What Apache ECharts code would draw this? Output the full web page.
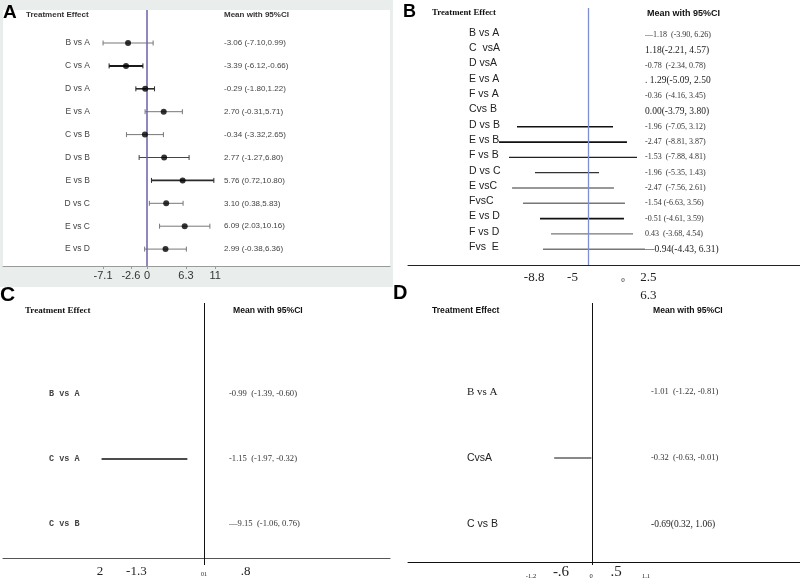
<!DOCTYPE html>
<html><head><meta charset="utf-8">
<script src="https://cdn.jsdelivr.net/npm/echarts@6/dist/echarts.min.js"></script>
<style>html,body{margin:0;padding:0;background:#fff}#c{width:800px;height:578px}</style>
</head><body><div id="c"></div>
<script>
// ---------------- DATA ----------------
// Panel A
const aCats = ['B vs A','C vs A','D vs A','E vs A','C vs B','D vs B','E vs B','D vs C','E vs C','E vs D'];
const aMean = [-3.06,-3.39,-0.29,2.70,-0.34,2.77,5.76,3.10,6.09,2.99];
const aLow  = [-7.10,-6.12,-1.80,-0.31,-3.32,-1.27,0.72,0.38,2.03,-0.38];
const aHigh = [0.99,-0.66,1.22,5.71,2.65,6.80,10.80,5.83,10.16,6.36];
const aTicks = [-7.1,-2.6,0,6.3,11];
// Panel B
const bCats = ['B vs A','C  vsA','D vsA','E vs A','F vs A','Cvs B','D vs B','E vs B','F vs B','D vs C','E vsC','FvsC','E vs D','F vs D','Fvs  E'];
const bText = ['—1.18  (-3.90, 6.26)','1.18(-2.21, 4.57)','-0.78  (-2.34, 0.78)','. 1.29(-5.09, 2.50','-0.36  (-4.16, 3.45)','0.00(-3.79, 3.80)',
  '-1.96  (-7.05, 3.12)','-2.47  (-8.81, 3.87)','-1.53  (-7.88, 4.81)','-1.96  (-5.35, 1.43)','-2.47  (-7.56, 2.61)','-1.54 (-6.63, 3.56)',
  '-0.51 (-4.61, 3.59)','0.43  (-3.68, 4.54)','—0.94(-4.43, 6.31)'];
const bLow  = [null,null,null,null,null,null,-7.03,-8.81,-7.82,-5.25,-7.52,-6.44,-4.75,-3.66,-4.46];
const bHigh = [null,null,null,null,null,null,2.48,3.86,4.85,1.09,2.57,3.66,3.56,4.46,5.64];
const bTicks = [-8.8,-5,0,2.5];
const bTickLabels = ['-8.8','-5','0','2.5\n6.3'];
// Panel C
const cCats = ['B vs A','C vs A','C vs B'];
const cText = ['-0.99  (-1.39, -0.60)','-1.15  (-1.97, -0.32)','—9.15  (-1.06, 0.76)'];
const cLow  = [null,-1.97,null];
const cHigh = [null,-0.32,null];
const cTicks = [-2,-1.3,0,0.8];
const cTickLabels = ['2','-1.3','01','.8'];
// Panel D
const dCats = ['B vs A','CvsA','C vs B'];
const dText = ['-1.01  (-1.22, -0.81)','-0.32  (-0.63, -0.01)','-0.69(0.32, 1.06)'];
const dLow  = [null,-0.63,null];
const dHigh = [null,-0.01,null];
const dTicks = [-1.2,-0.6,0,0.5,1.1];
const dTickLabels = ['-1.2','-.6','0','.5','1.1'];

// ---------------- LAYOUT HELPERS ----------------
function xRange(left, right, zero, ppu){ return {min:(left-zero)/ppu, max:(right-zero)/ppu}; }
function yRange(top, height, y0, d){ const mn = -(y0-top)/d; return {min:mn, max:mn + height/d}; }
const idx = n => Array.from({length:n}, (_, i) => i);
const SANS = "'Liberation Sans', Arial, sans-serif";
const SERIF = "'Liberation Serif', 'Times New Roman', serif";
const MONO = "'Liberation Mono', monospace";

const gA = {left:3, top:10, width:387, height:256};
const gB = {left:408, top:8, width:392, height:257};
const gC = {left:3, top:303, width:387, height:255};
const gD = {left:408, top:303, width:392, height:259};

function rowAxis(grid, rng, labels, margin, align, labelStyle){
  return {
    type:'value', gridIndex:grid, position:'left', offset:0, inverse:true, min:rng.min, max:rng.max,
    axisLine:{show:false}, axisTick:{show:false}, splitLine:{show:false},
    axisLabel:Object.assign({show:true, inside:true, align:align, margin:margin,
      customValues: idx(labels.length),
      formatter: v => labels[Math.round(v)] }, labelStyle)
  };
}
function hiddenX(grid, rng, extra){
  return Object.assign({type:'value', gridIndex:grid, position:'bottom', offset:0, min:rng.min, max:rng.max,
    splitLine:{show:false}, axisTick:{show:false}, axisLabel:{show:false}, axisLine:{show:false}}, extra||{});
}
function rowsOf(lo, hi){ return lo.map((l,i)=>[l,hi[i],i]).filter(r=>r[0]!=null); }

function segRender(styles, cap){
  return function(params, api){
    const i = api.value(2);
    const p1 = api.coord([api.value(0), i]);
    const p2 = api.coord([api.value(1), i]);
    const st = styles(i);
    const children = [{type:'line', shape:{x1:p1[0], y1:p1[1], x2:p2[0], y2:p2[1]}, style:{stroke:st.c, lineWidth:st.w}}];
    if (cap) {
      [p1,p2].forEach(p => children.push({type:'line', shape:{x1:p[0], y1:p[1]-cap, x2:p[0], y2:p[1]+cap}, style:{stroke:st.c, lineWidth:1}}));
    }
    return {type:'group', children};
  };
}

const aStyle = i => ({1:{c:'#1a1a1a',w:2},2:{c:'#2a2a2a',w:1.6},6:{c:'#2a2a2a',w:1.6},5:{c:'#444',w:1.2}}[i] || {c:'#777',w:1});
const bStyle = i => ({6:{c:'#111',w:1.6},7:{c:'#111',w:1.8},8:{c:'#222',w:1.4},9:{c:'#333',w:1.2},10:{c:'#333',w:1.2},
                      11:{c:'#777',w:1.6},12:{c:'#111',w:1.8},13:{c:'#777',w:1.4},14:{c:'#777',w:1.4}}[i] || {c:'#333',w:1});
const bBig = new Set([1,3,5,14]);

const aRowRng = yRange(gA.top, gA.height, 43, 22.9);
const bLabRng = yRange(gB.top, gB.height, 33, 15.3);
const bRowRng = yRange(gB.top, gB.height, 35, 15.3);
const cRowRng = yRange(gC.top, gC.height, 394, 65);
const dRowRng = yRange(gD.top, gD.height, 392, 66);

const aText = aMean.map((m,i)=>`${m.toFixed(2)} (${aLow[i].toFixed(2)},${aHigh[i].toFixed(2)})`);

function refLine(xi, yi, color, w){
  return {type:'scatter', xAxisIndex:xi, yAxisIndex:yi, data:[], silent:true,
    markLine:{silent:true, symbol:['none','none'], label:{show:false}, animation:false,
      lineStyle:{color:color, width:w, type:'solid'}, data:[{xAxis:0}]}};
}

const titles = [
  {text:'A', left:3, top:3, textStyle:{fontFamily:SANS, fontSize:19, fontWeight:'bold', color:'#000'}},
  {text:'B', left:403, top:3, textStyle:{fontFamily:SANS, fontSize:18, fontWeight:'bold', color:'#000'}},
  {text:'C', left:0, top:285, textStyle:{fontFamily:SANS, fontSize:21, fontWeight:'bold', color:'#000'}},
  {text:'D', left:393, top:283, textStyle:{fontFamily:SANS, fontSize:20, fontWeight:'bold', color:'#000'}},
  {text:'Treatment Effect', left:26, top:11, textStyle:{fontFamily:SANS, fontSize:8, fontWeight:'bold', color:'#333'}},
  {text:'Mean with 95%CI', left:224, top:11, textStyle:{fontFamily:SANS, fontSize:8, fontWeight:'bold', color:'#333'}},
  {text:'Treatment Effect', left:432, top:8.5, textStyle:{fontFamily:SERIF, fontSize:8.8, fontWeight:'bold', color:'#111'}},
  {text:'Mean with 95%CI', left:647, top:9, textStyle:{fontFamily:SANS, fontSize:9, fontWeight:'bold', color:'#111'}},
  {text:'Treatment Effect', left:25, top:306, textStyle:{fontFamily:SERIF, fontSize:9, fontWeight:'bold', color:'#111'}},
  {text:'Mean with 95%CI', left:233, top:306, textStyle:{fontFamily:SANS, fontSize:8.6, color:'#111'}},
  {text:'Treatment Effect', left:432, top:306, textStyle:{fontFamily:SANS, fontSize:8.6, color:'#111'}},
  {text:'Mean with 95%CI', left:653, top:306, textStyle:{fontFamily:SANS, fontSize:8.6, color:'#111'}}
].map(t => Object.assign({padding:0, itemGap:0}, t));

const option = {
  animation:false,
  backgroundColor:'#fff',
  title: titles,
  graphic: [{type:'rect', silent:true, z:-10, shape:{x:0, y:0, width:393, height:287}, style:{fill:'#e9eeec'}}],
  grid: [gA,gB,gC,gD].map((g,i)=>Object.assign({containLabel:false, outerBoundsMode:'none', show:i===0, backgroundColor:'#fff', borderWidth:0}, g)),
  xAxis: [
    // 0: A
    Object.assign(hiddenX(0, xRange(3,390,147,6.19)), {
      axisLine:{show:true, onZero:false, lineStyle:{color:'#9a9a9a', width:1}},
      axisTick:{show:true, customValues:aTicks, length:3, lineStyle:{color:'#9a9a9a'}},
      axisLabel:{show:true, customValues:aTicks, margin:4, fontFamily:SANS, fontSize:11, color:'#333', formatter:v=>String(v)}
    }),
    // 1: B main
    Object.assign(hiddenX(1, xRange(408,800,588,10.1)), {axisLine:{show:true, onZero:false, lineStyle:{color:'#222', width:1}}}),
    // 2: B tick labels
    Object.assign(hiddenX(1, xRange(408,800,623,10.1)), {
      axisLabel:{show:true, customValues:bTicks, margin:4, fontFamily:SERIF, fontSize:13, color:'#222', lineHeight:18,
        formatter:v=>{const k=bTicks.indexOf(v); const t=bTickLabels[k]; return v===0 ? '{s|'+t+'}' : t;},
        rich:{s:{fontSize:7, fontFamily:SERIF, color:'#222', padding:[4,0,0,0]}}}
    }),
    // 3: C main
    Object.assign(hiddenX(2, xRange(3,390,204,52)), {
      axisLine:{show:true, onZero:false, lineStyle:{color:'#555', width:1}},
      axisTick:{show:true, customValues:[0], length:7, lineStyle:{color:'#111'}},
      axisLabel:{show:true, customValues:cTicks, margin:7, fontFamily:SERIF, fontSize:13, color:'#222',
        formatter:v=>{const k=cTicks.indexOf(v); const t=cTickLabels[k]; return v===0 ? '{s|'+t+'}' : t;},
        rich:{s:{fontSize:6, fontFamily:SERIF, color:'#222', padding:[6,0,0,0]}}}
    }),
    // 4: D main
    Object.assign(hiddenX(3, xRange(408,800,592,60)), {
      axisLine:{show:true, onZero:false, lineStyle:{color:'#111', width:1}},
      axisTick:{show:true, customValues:[0], length:3, lineStyle:{color:'#111'}}
    }),
    // 5: D tick labels
    Object.assign(hiddenX(3, xRange(408,800,591,50)), {
      axisLabel:{show:true, customValues:dTicks, margin:3, fontFamily:SERIF, fontSize:15, color:'#222',
        formatter:v=>{const k=dTicks.indexOf(v); const t=dTickLabels[k]; return (k===1||k===3) ? t : '{s|'+t+'}';},
        rich:{s:{fontSize:6.5, fontFamily:SERIF, color:'#222', padding:[8,0,0,0]}}}
    })
  ],
  yAxis: [
    rowAxis(0, aRowRng, aCats, 87, 'right', {fontFamily:SANS, fontSize:8.5, color:'#444'}),
    rowAxis(0, aRowRng, aText, 221, 'left', {fontFamily:SANS, fontSize:8, color:'#444'}),
    rowAxis(1, bLabRng, bCats, 61, 'left', {fontFamily:SANS, fontSize:10.5, color:'#222'}),
    Object.assign(rowAxis(1, bRowRng, bText, 237, 'left', {}), {axisLabel:{show:true, inside:true, align:'left', margin:237,
      customValues: idx(bText.length),
      formatter: v => { const k=Math.round(v); return (bBig.has(k)?'{b|':'{s|') + bText[k] + '}'; },
      rich:{b:{fontFamily:SERIF, fontSize:9.5, color:'#222'}, s:{fontFamily:SERIF, fontSize:8, color:'#333'}}}}),
    rowAxis(2, cRowRng, cCats, 46, 'left', {fontFamily:MONO, fontSize:8.5, fontWeight:'bold', color:'#444'}),
    rowAxis(2, cRowRng, cText, 226, 'left', {fontFamily:SERIF, fontSize:8.6, color:'#333'}),
    Object.assign(rowAxis(3, dRowRng, dCats, 59, 'left', {}), {axisLabel:{show:true, inside:true, align:'left', margin:59,
      customValues: idx(dCats.length),
      formatter: v => { const k=Math.round(v); return (k===0?'{r|':'{n|') + dCats[k] + '}'; },
      rich:{r:{fontFamily:SERIF, fontSize:11, color:'#222'}, n:{fontFamily:SANS, fontSize:10.5, color:'#222'}}}}),
    Object.assign(rowAxis(3, dRowRng, dText, 243, 'left', {}), {axisLabel:{show:true, inside:true, align:'left', margin:243,
      customValues: idx(dText.length),
      formatter: v => { const k=Math.round(v); return (k===2?'{b|':'{s|') + dText[k] + '}'; },
      rich:{b:{fontFamily:SERIF, fontSize:9.5, color:'#222'}, s:{fontFamily:SERIF, fontSize:8.5, color:'#333'}}}})
  ],
  series: [
    {type:'custom', xAxisIndex:0, yAxisIndex:0, data:rowsOf(aLow,aHigh), encode:{x:[0,1], y:2}, renderItem:segRender(aStyle, 2.5), silent:true},
    {type:'scatter', xAxisIndex:0, yAxisIndex:0, data:aMean.map((m,i)=>[m,i]), symbol:'circle', symbolSize:6, itemStyle:{color:'#000'}, silent:true, z:5,
      markLine:{silent:true, symbol:['none','none'], label:{show:false}, animation:false, lineStyle:{color:'#6b5fa8', width:1.5, type:'solid'}, data:[{xAxis:0}]}},
    {type:'custom', xAxisIndex:1, yAxisIndex:3, data:rowsOf(bLow,bHigh), encode:{x:[0,1], y:2}, renderItem:segRender(bStyle, 0), silent:true},
    refLine(1, 3, '#7d8ed2', 1.3),
    {type:'custom', xAxisIndex:3, yAxisIndex:4, data:rowsOf(cLow,cHigh), encode:{x:[0,1], y:2}, renderItem:segRender(()=>({c:'#111',w:1.3}), 0), silent:true},
    refLine(3, 4, '#111', 1),
    {type:'custom', xAxisIndex:4, yAxisIndex:6, data:rowsOf(dLow,dHigh), encode:{x:[0,1], y:2}, renderItem:segRender(()=>({c:'#888',w:2}), 0), silent:true},
    refLine(4, 6, '#111', 1)
  ]
};
const chart = echarts.init(document.getElementById('c'));
chart.setOption(option);
</script></body></html>
